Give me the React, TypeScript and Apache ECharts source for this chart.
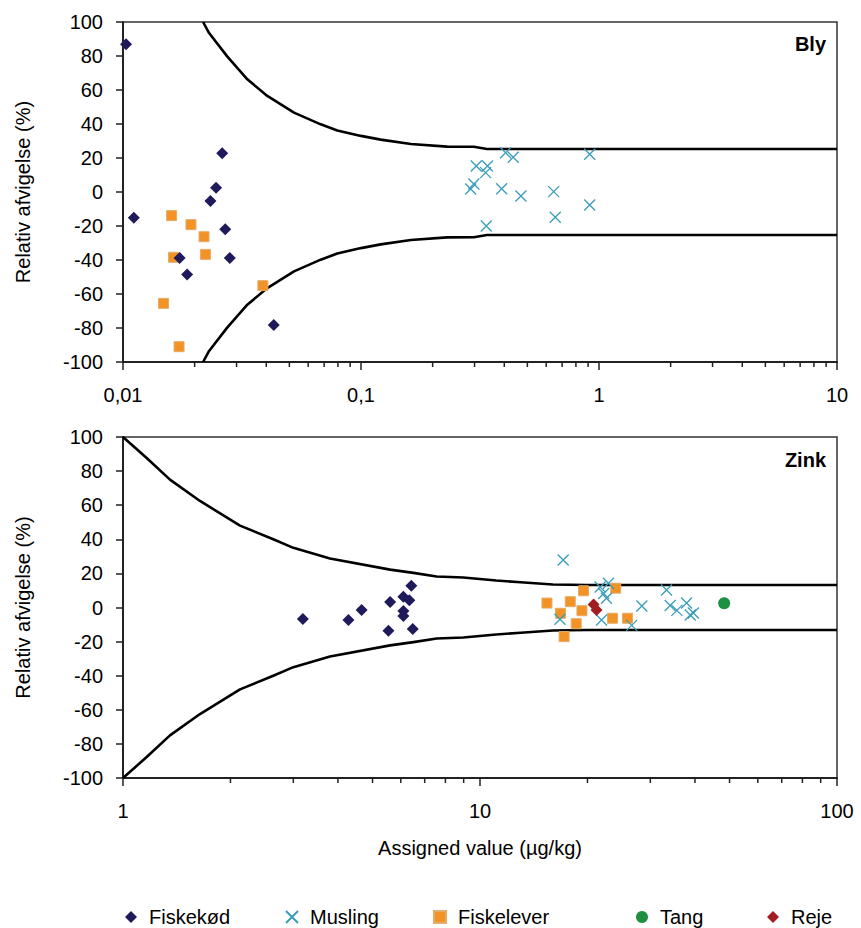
import React, { useEffect, useRef } from "react";
import * as echarts from "echarts";

const FONT = "'Liberation Sans', Arial, Helvetica, sans-serif";

// ---- Data ----
const seriesNames = ["Fiskekød", "Musling", "Fiskelever", "Tang", "Reje"];

// Bly (top panel): [assigned value µg/kg, relative deviation %]
const blyFiskekod: number[][] = [
  [0.0103, 86.9], [0.0111, -15.1], [0.0261, 22.8], [0.0246, 2.5], [0.0233, -5.3],
  [0.0269, -21.9], [0.0173, -38.8], [0.0281, -38.8], [0.0186, -48.6], [0.043, -78.2],
];
const blyFiskelever: number[][] = [
  [0.016, -13.9], [0.0193, -19.2], [0.0219, -26.3], [0.0222, -36.7],
  [0.0163, -38.4], [0.0387, -55.1], [0.0148, -65.5], [0.0172, -91.0],
];
const blyMusling: number[][] = [
  [0.405, 23.1], [0.436, 20.4], [0.305, 15.3], [0.34, 15.3], [0.334, 11.4],
  [0.298, 4.7], [0.289, 1.8], [0.39, 1.9], [0.47, -2.4], [0.645, 0.2],
  [0.655, -14.9], [0.914, 22.2], [0.914, -7.6], [0.336, -20.0],
];
// acceptance limit curve (upper; lower is its mirror)
const blyLimit: number[][] = [
  [0.0217, 100], [0.023, 93.5], [0.0274, 79.8], [0.0333, 66.3], [0.0404, 56.5],
  [0.0523, 46.7], [0.0677, 39.8], [0.0795, 36.2], [0.1, 33.0], [0.121, 30.8],
  [0.162, 28.2], [0.23, 26.7], [0.298, 26.6], [0.338, 25.3], [10, 25.3],
];

// Zink (bottom panel)
const zinkFiskekod: number[][] = [
  [3.19, -6.7], [4.28, -7.3], [4.66, -1.5], [5.54, -13.6], [5.6, 3.2],
  [6.1, 6.3], [6.34, 4.3], [6.42, 12.7], [6.1, -2.1], [6.1, -5.0], [6.48, -12.6],
];
const zinkMusling: number[][] = [
  [17.1, 27.9], [16.75, -6.9], [21.7, 12.0], [22.9, 14.2], [22.6, 5.4],
  [22.2, 8.2], [21.9, -7.3], [26.6, -10.5], [28.4, 0.9], [33.3, 10.3],
  [34.1, 1.2], [35.6, -1.7], [37.9, 2.6], [38.8, -4.4], [39.6, -3.2],
];
const zinkFiskelever: number[][] = [
  [15.4, 2.6], [17.9, 3.4], [19.5, 9.8], [16.8, -3.4], [19.3, -1.9],
  [18.6, -9.5], [24.0, 11.3], [23.5, -6.3], [25.9, -6.3], [17.2, -17.1],
];
const zinkTang: number[][] = [[48.3, 2.5]];
const zinkReje: number[][] = [[20.8, 1.7], [21.2, -1.5]];
const zinkLimit: number[][] = [
  [1.0, 100], [1.165, 87.7], [1.354, 75.0], [1.643, 62.5], [2.127, 48.0],
  [2.636, 40.0], [3.0, 35.0], [3.8, 28.7], [5.6, 22.2], [6.51, 20.3],
  [7.56, 18.2], [8.98, 17.6], [11.1, 15.8], [13.0, 14.8], [16.0, 13.5],
  [20.0, 13.2], [100, 13.2],
];

// axis ticks
const blyMinorTicks = [0.02, 0.03, 0.04, 0.05, 0.06, 0.07, 0.08, 0.09, 0.2, 0.3, 0.4, 0.5, 0.6, 0.7, 0.8, 0.9, 2, 3, 4, 5, 6, 7, 8, 9];
const zinkMinorTicks = [2, 3, 4, 5, 6, 7, 8, 9, 20, 30, 40, 50, 60, 70, 80, 90];

// ---- Styles ----
const C_FISKEKOD = "#1f1b5a";
const C_MUSLING = "#3a9db8";
const C_FISKELEVER = "#f39325";
const C_TANG = "#1f8f40";
const C_REJE = "#a21d22";
const CROSS = "path://M0,0L10,10M10,0L0,10";

export default function App() {
  const ref = useRef<HTMLDivElement>(null);

  useEffect(() => {
    document.body.style.margin = "0";
    if (!ref.current) return;
    const chart = echarts.init(ref.current, undefined, { renderer: "svg" });

    const axisLine = { show: true, onZero: false, lineStyle: { color: "#222", width: 2 } };
    const label = { fontSize: 20, color: "#000", fontFamily: FONT };

    const makeX = (gi: number, min: number, max: number, extra: any = {}) => ({
      type: "log",
      logBase: 10,
      min,
      max,
      gridIndex: gi,
      axisLine,
      axisTick: { show: true, length: 8, lineStyle: { color: "#222", width: 1.5 } },
      splitLine: { show: false },
      axisLabel: {
        ...label,
        margin: 23,
        formatter: (v: number) => String(v).replace(".", ","),
      },
      ...extra,
    });
    const makeY = (gi: number) => ({
      type: "value",
      min: -100,
      max: 100,
      interval: 20,
      gridIndex: gi,
      name: "Relativ afvigelse (%)",
      nameLocation: "middle",
      nameGap: 90,
      nameTextStyle: { ...label },
      axisLine,
      axisTick: { show: true, length: 7, lineStyle: { color: "#222", width: 1.5 } },
      splitLine: { show: false },
      axisLabel: { ...label, margin: 20 },
    });

    const limitLine = (data: number[][], gi: number, sign: number) => ({
      type: "line",
      xAxisIndex: gi,
      yAxisIndex: gi,
      data: data.map(([x, l]) => [x, sign * l]),
      symbol: "none",
      smooth: false,
      silent: true,
      lineStyle: { color: "#000", width: 2.6, join: "round" },
      z: 2,
    });

    const minorTicks = (vals: number[], gi: number) => ({
      type: "custom",
      xAxisIndex: gi,
      yAxisIndex: gi,
      data: vals.map((v) => [v, -100]),
      silent: true,
      clip: false,
      z: 5,
      renderItem: (_p: any, api: any) => {
        const p = api.coord([api.value(0), api.value(1)]);
        return {
          type: "line",
          shape: { x1: p[0], y1: p[1], x2: p[0], y2: p[1] + 5 },
          style: { stroke: "#222", lineWidth: 1.5 },
        };
      },
    });

    const scat = (name: string, data: number[][], gi: number, kind: string) => {
      const base: any = { type: "scatter", name, data, xAxisIndex: gi, yAxisIndex: gi, z: 4 };
      if (kind === "diamondNavy")
        return { ...base, symbol: "diamond", symbolSize: 12, itemStyle: { color: C_FISKEKOD, opacity: 1 } };
      if (kind === "diamondRed")
        return { ...base, symbol: "diamond", symbolSize: 12, itemStyle: { color: C_REJE, opacity: 1 } };
      if (kind === "square")
        return {
          ...base,
          symbol: "rect",
          symbolSize: 10,
          itemStyle: { color: C_FISKELEVER, borderColor: "#e2ad6a", borderWidth: 1, opacity: 1 },
        };
      if (kind === "cross")
        return {
          ...base,
          symbol: CROSS,
          symbolSize: 11,
          itemStyle: { color: "rgba(0,0,0,0)", borderColor: C_MUSLING, borderWidth: 1.3, opacity: 1 },
        };
      return { ...base, symbol: "circle", symbolSize: 12, itemStyle: { color: C_TANG, opacity: 1 } };
    };

    const legendLefts = [120, 280, 428, 631, 762];

    const option: any = {
      animation: false,
      backgroundColor: "#fff",
      textStyle: { fontFamily: FONT },
      grid: [
        { left: 123, top: 22, width: 714, height: 340, show: true, borderColor: "#333", borderWidth: 1.5 },
        { left: 123, top: 437, width: 714, height: 341, show: true, borderColor: "#333", borderWidth: 1.5 },
      ],
      xAxis: [
        makeX(0, 0.01, 10),
        makeX(1, 1, 100, {
          name: "Assigned value (µg/kg)",
          nameLocation: "middle",
          nameGap: 60,
          nameTextStyle: { ...label },
        }),
      ],
      yAxis: [makeY(0), makeY(1)],
      legend: seriesNames.map((n, i) => ({
        data: [n],
        left: legendLefts[i],
        top: 902,
        itemWidth: 12,
        itemHeight: 12,
        selectedMode: false,
        textStyle: { ...label, padding: [0, 0, 0, 7] },
      })),
      graphic: [
        { type: "text", right: 35, top: 34, style: { text: "Bly", font: `bold 20px ${FONT}`, fill: "#000" } },
        { type: "text", right: 35, top: 450, style: { text: "Zink", font: `bold 20px ${FONT}`, fill: "#000" } },
      ],
      series: [
        limitLine(blyLimit, 0, 1),
        limitLine(blyLimit, 0, -1),
        limitLine(zinkLimit, 1, 1),
        limitLine(zinkLimit, 1, -1),
        minorTicks(blyMinorTicks, 0),
        minorTicks(zinkMinorTicks, 1),
        scat("Musling", blyMusling, 0, "cross"),
        scat("Fiskelever", blyFiskelever, 0, "square"),
        scat("Fiskekød", blyFiskekod, 0, "diamondNavy"),
        scat("Fiskekød", zinkFiskekod, 1, "diamondNavy"),
        scat("Fiskelever", zinkFiskelever, 1, "square"),
        scat("Musling", zinkMusling, 1, "cross"),
        scat("Reje", zinkReje, 1, "diamondRed"),
        scat("Tang", zinkTang, 1, "circle"),
      ],
    };

    chart.setOption(option);
    return () => chart.dispose();
  }, []);

  return <div ref={ref} style={{ width: 861, height: 928 }} />;
}
